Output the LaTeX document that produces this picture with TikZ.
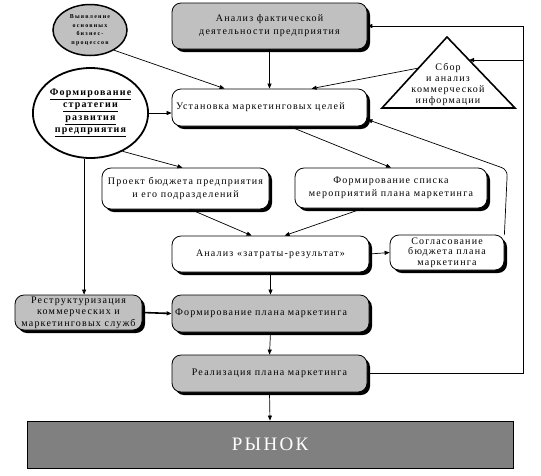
\documentclass[tikz,border=0pt]{standalone}
\usepackage{fontspec}
\setmainfont{Liberation Serif}
\newfontfamily\lsfont{Liberation Serif}[LetterSpace=12]
\newfontfamily\wsfont{Liberation Serif}[LetterSpace=20]
\usetikzlibrary{shadows,arrows.meta,calc,shapes.geometric}
\definecolor{boxgray}{RGB}{192,192,192}
\definecolor{mktgray}{RGB}{128,128,128}
\begin{document}
\begin{tikzpicture}[x=1pt,y=-1pt,
  every node/.style={font=\lsfont\fontsize{10}{13}\selectfont},
  box/.style={draw, line width=0.8pt, rounded corners=9pt, fill=white,
    drop shadow={shadow xshift=3pt,shadow yshift=-3pt,fill=black,opacity=1},
    align=center, inner sep=2pt},
  gbox/.style={box, fill=boxgray},
  arr/.style={-{Triangle[length=5pt,width=4pt]}, line width=0.7pt},
]
\useasboundingbox (0,0) rectangle (541,475);

% ellipses
\node[ellipse, draw, line width=1.5pt, fill=boxgray, minimum width=74pt, minimum height=51pt, inner sep=0pt, align=center,
  font=\wsfont\bfseries\fontsize{6}{8.5}\selectfont] (sell) at (90,30) {Выявление\\основных\\бизнес-\\процессов};
\node[ellipse, draw, line width=1.8pt, fill=white, minimum width=115pt, minimum height=90pt, inner sep=0pt, align=center,
  font=\lsfont\bfseries\fontsize{10}{12.5}\selectfont] (bell) at (90.5,113)
  {\underline{Формирование}\\\underline{стратегии}\\\underline{развития}\\\underline{предприятия}};

% boxes
\node[gbox, minimum width=195pt, minimum height=46pt] (top) at (269.5,26) {Анализ фактической\\деятельности предприятия};
\node[box, minimum width=195pt, minimum height=37pt, text width=187pt, align=left, inner xsep=4pt] (ust) at (269.5,107.5) {Установка маркетинговых целей};
\node[box, minimum width=167pt, minimum height=41pt] (proj) at (185.5,188.5) {Проект бюджета предприятия\\и его подразделений};
\node[box, minimum width=192pt, minimum height=40pt] (spis) at (391,188) {Формирование списка\\мероприятий плана маркетинга};
\node[box, minimum width=197pt, minimum height=36pt] (anal) at (270.5,254) {Анализ «затраты-результат»};
\node[box, minimum width=114pt, minimum height=35pt, font=\lsfont\fontsize{10}{10.5}\selectfont] (sogl) at (447,252.5) {Согласование\\бюджета плана\\маркетинга};
\node[gbox, minimum width=127pt, minimum height=35pt, inner sep=1pt, font=\lsfont\fontsize{10}{11.5}\selectfont] (restr) at (78.5,312.5) {Реструктуризация\\коммерческих и\\маркетинговых служб};
\node[gbox, minimum width=197pt, minimum height=37pt, text width=191pt, align=left, inner xsep=3pt] (fplan) at (270.5,313.5) {Формирование плана маркетинга};
\node[gbox, minimum width=195pt, minimum height=37pt] (real) at (269.5,373.5) {Реализация плана маркетинга};
\node[draw, line width=0.8pt, fill=mktgray, minimum width=486pt, minimum height=47pt, text=white,
  font=\lsfont\fontsize{19}{21}\selectfont] (mkt) at (270,444.5) {РЫНОК};

% triangle
\coordinate (tA) at (447,37);
\coordinate (tB) at (382,108);
\coordinate (tC) at (515,108);
\draw[line width=1.6pt, fill=white, line join=miter] (tA) -- (tB) -- (tC) -- cycle;
\node[align=center, inner sep=0pt, font=\lsfont\fontsize{10}{11}\selectfont] (tri) at (448,84) {Сбор\\и анализ\\коммерческой\\информации};
\coordinate (triR) at ($(tA)!0.324!(tC)$);
\coordinate (triL) at ($(tA)!0.437!(tB)$);

% connectors
\draw[arr] (sell.-40) -- ($(ust.north west)+(53,0)$);
\draw[arr] (top.south) -- (ust.north);
\draw[arr] (triL) -- ($(ust.north west)+(140,0)$);
\draw[arr] (bell.east) -- (bell.east -| ust.west);
\draw[arr] (bell.-50) -- ($(proj.north)+(-3,0)$);
\draw[arr] (bell.262) -- (bell.262 |- restr.north);
\draw[arr] ($(ust.south)+(20,0)$) -- (spis.north);
\draw[arr] ($(proj.south)+(5,0)$) -- ($(anal.north west)+(80,0)$);
\draw[arr] ($(spis.south)+(-28,0)$) -- ($(anal.north west)+(113,0)$);
\draw[arr] (anal.east) -- (sogl.west);
\draw[arr] (anal.south) -- (fplan.north);
\draw[-{Triangle[length=5pt,width=4pt]}, line width=1.6pt] (restr.east) -- (fplan.west);
\draw[arr] (fplan.south) -- (real.north);
\draw[arr] (real.south) -- (mkt.north);
\draw[arr, rounded corners=6pt] (sogl.north east) -- ($(sogl.north east)+(3,-65)$) -- (ust.-7);

% feedback frame
\coordinate (fr) at (523,26);
\draw[arr, line width=1pt] (real.east) -- (real.east -| fr) -- (fr) -- (top.east);
\draw[arr, line width=1pt] (fr |- triR) -- (triR);
\end{tikzpicture}
\end{document}
